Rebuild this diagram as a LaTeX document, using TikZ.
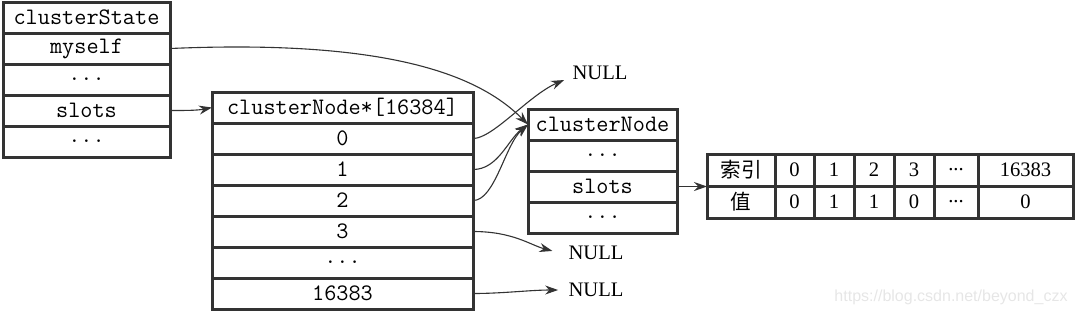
\documentclass[tikz,border=0pt]{standalone}
\usepackage{fontspec}
\setmainfont{Liberation Serif}
\newfontfamily\cjkfont{Noto Sans CJK SC}
\newfontfamily\wmfont{Liberation Sans}
\usepackage{tikz}
\usetikzlibrary{arrows.meta, positioning, calc}
\definecolor{boxline}{RGB}{51,51,51}
\definecolor{wmgray}{RGB}{230,230,230}
\newcommand{\codefont}{\ttfamily\fontsize{11.8}{14}\selectfont}
\newcommand{\numfont}{\fontsize{10.3}{12}\selectfont}
\newcommand{\tdots}{...}
\tikzset{
  field/.style={rectangle, draw=boxline, line width=1.5pt, inner sep=0pt,
    outer sep=0pt, minimum height=15.5pt, font=\codefont},
  statefield/.style={field, minimum width=83.5pt},
  slotfield/.style={field, minimum width=130.5pt},
  nodefield/.style={field, minimum width=74.5pt},
  tabcell/.style={rectangle, draw=boxline, line width=1.5pt, inner sep=0pt,
    outer sep=0pt, minimum height=16pt, font=\numfont},
  nullnode/.style={font=\numfont, inner sep=4pt},
  ptr/.style={-{Stealth[length=6.5pt, width=4.5pt]}, line width=0.55pt, color=boxline}
}

\begin{document}
\begin{tikzpicture}[x=0.5pt, y=-0.5pt]
  \useasboundingbox (0,0) rectangle (1076,313);

  % clusterState
  \node[statefield] (cs0) at (86.5, 17.5) {clusterState};
  \node[statefield] (cs1) at (86.5, 48.5) {myself};
  \node[statefield] (cs2) at (86.5, 79.5) {...};
  \node[statefield] (cs3) at (86.5, 110.5) {slots};
  \node[statefield] (cs4) at (86.5, 141.5) {...};

  % clusterNode*[16384] array
  \node[slotfield] (arrhd) at (342.5, 107.5) {clusterNode*[16384]};
  \node[slotfield] (slot0) at (342.5, 138.5) {0};
  \node[slotfield] (slot1) at (342.5, 169.5) {1};
  \node[slotfield] (slot2) at (342.5, 200.5) {2};
  \node[slotfield] (slot3) at (342.5, 231.5) {3};
  \node[slotfield] (slotdots) at (342.5, 262.5) {...};
  \node[slotfield] (slotlast) at (342.5, 293.5) {16383};

  % clusterNode (myself)
  \node[nodefield] (cnhd) at (602.5, 124.5) {clusterNode};
  \node[nodefield] (cndotsa) at (602.5, 155.5) {...};
  \node[nodefield] (cnslots) at (602.5, 186.5) {slots};
  \node[nodefield] (cndotsb) at (602.5, 217.5) {...};

  % slots bitmap
  \foreach \x/\w/\k/\v [count=\i from 0] in
    {741/34/{\cjkfont 索引}/{\cjkfont 值}, 794.5/19.5/0/0, 834/20/1/1, 874/20/2/1,
     914/20/3/0, 956/22/\tdots/\tdots, 1025.5/47.5/16383/0} {
    \node[tabcell, minimum width=\w pt] (k\i) at (\x, 170) {\k};
    \node[tabcell, minimum width=\w pt] (v\i) at (\x, 202) {\v};
  }

  % NULL targets
  \node[nullnode] (nulltop) at (600, 73) {NULL};
  \node[nullnode] (nullmid) at (596, 253) {NULL};
  \node[nullnode] (nulllow) at (596, 290) {NULL};

  % pointers
  \draw[ptr] (cs1.east) .. controls +(230,-10) and +(-45,-45) .. (cnhd.west);
  \draw[ptr] (cs3.east) .. controls +(15,0) and +(-15,3) .. (arrhd.west);
  \draw[ptr] (slot0.east) .. controls +(20,0) and +(-35,15) .. ([yshift=-3.5pt]nulltop.west);
  \draw[ptr] (slot1.east) .. controls +(25,0) and +(-20,15) .. (cnhd.west);
  \draw[ptr] (slot2.east) .. controls +(22,0) and +(-23,20) .. (cnhd.west);
  \draw[ptr, shorten >=4pt] (slot3.east) .. controls +(40,0) and +(-30,-8) .. (nullmid.west);
  \draw[ptr, shorten >=1pt] (slotlast.east) .. controls +(30,0) and +(-30,0) .. (nulllow.west);
  \draw[ptr] (cnslots.east) -- (cnslots.east -| k0.west);

  % watermark
  \node[font=\wmfont\fontsize{8}{9.6}\selectfont, text=wmgray] (wm) at (951, 297) {https://blog.csdn.net/beyond\_czx};
\end{tikzpicture}
\end{document}
